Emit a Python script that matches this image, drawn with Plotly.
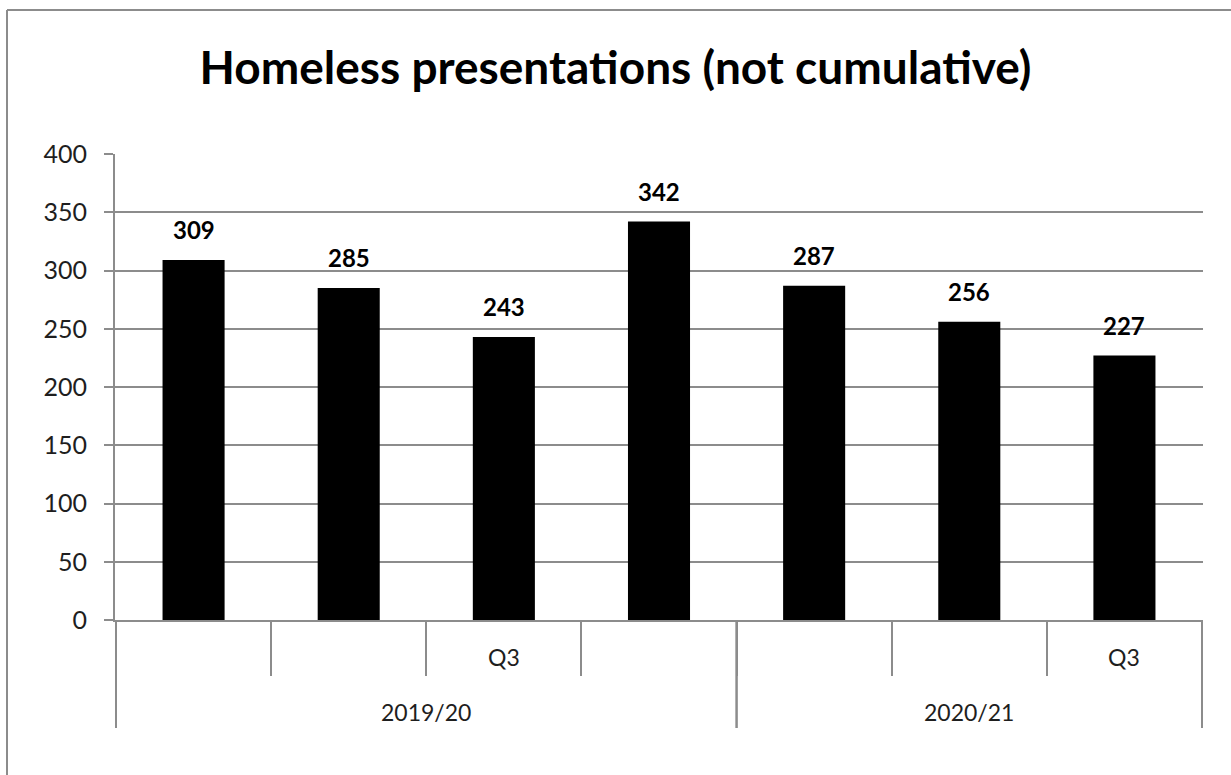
import plotly.graph_objects as go

years = ["2019/20", "2019/20", "2019/20", "2019/20", "2020/21", "2020/21", "2020/21"]
quarters = ["", "", "Q3", "", "", "", "Q3"]
values = [309, 285, 243, 342, 287, 256, 227]
y_ticks = [0, 50, 100, 150, 200, 250, 300, 350, 400]

FONT = "Lato, Carlito, Calibri, sans-serif"
GRID = "#8c8c8c"
TXT = "#1e1e1e"

# plot geometry (pixels) used to express label offsets in paper units
PLOT_H = 466.0
PLOT_W = 1088.0

keys = [f"{y}|{i}" for i, y in enumerate(years)]

fig = go.Figure()
fig.add_trace(go.Bar(
    x=keys, y=values,
    marker=dict(color="black", line=dict(width=0)),
    showlegend=False, hoverinfo="skip",
))

annotations = []
for k, v in zip(keys, values):
    annotations.append(dict(
        x=k, y=v, xref="x", yref="y", text=f"<b>{v}</b>",
        showarrow=False, yanchor="bottom", yshift=14,
        font=dict(family=FONT, size=24, color="black"),
    ))
for k, q in zip(keys, quarters):
    if q:
        annotations.append(dict(
            x=k, y=-37 / PLOT_H, xref="x", yref="paper", text=q,
            showarrow=False, yanchor="middle",
            font=dict(family=FONT, size=23, color=TXT),
        ))

# group (year) labels and divider positions
groups = []
for i, y in enumerate(years):
    if not groups or groups[-1][0] != y:
        groups.append([y, i, i])
    else:
        groups[-1][2] = i

shapes = []
for name, a, b in groups:
    annotations.append(dict(
        x=(a + b) / 2, y=-92 / PLOT_H, xref="x", yref="paper", text=name,
        showarrow=False, yanchor="middle",
        font=dict(family=FONT, size=23, color=TXT),
    ))
    for edge in (a - 0.5, b + 0.5):
        shapes.append(dict(type="line", xref="x", yref="paper",
                           x0=edge, x1=edge, y0=0, y1=-108 / PLOT_H,
                           line=dict(color=GRID, width=2)))

# chart frame (left + top edges visible)
bx = (7 - 115) / PLOT_W
by = 1 + (154 - 10) / PLOT_H
shapes += [
    dict(type="line", xref="paper", yref="paper", x0=bx, x1=1.2, y0=by, y1=by,
         line=dict(color=GRID, width=2)),
    dict(type="line", xref="paper", yref="paper", x0=bx, x1=bx, y0=by, y1=-0.5,
         line=dict(color=GRID, width=2)),
]

fig.update_layout(
    width=1231, height=775,
    margin=dict(l=115, r=28, t=154, b=155),
    paper_bgcolor="white", plot_bgcolor="white",
    bargap=0.6,
    title=dict(text="<b>Homeless presentations (not cumulative)</b>",
               x=0.5, xanchor="center", y=1 - 68 / 775, yanchor="middle",
               font=dict(family=FONT, size=46, color="black")),
    font=dict(family=FONT, color=TXT),
    annotations=annotations,
    shapes=shapes,
)

fig.update_yaxes(
    range=[0, 400], tickvals=y_ticks, showgrid=True, gridcolor=GRID, gridwidth=2,
    showline=True, linecolor=GRID, linewidth=2,
    ticks="outside", ticklen=9, tickcolor=GRID, tickwidth=2,
    tickfont=dict(family=FONT, size=25, color=TXT),
    ticklabelstandoff=12, zeroline=False,
)
fig.update_xaxes(
    type="category", showticklabels=False,
    showline=True, linecolor=GRID, linewidth=2,
    ticks="outside", tickson="boundaries", ticklen=54, tickcolor=GRID, tickwidth=2,
    showgrid=False,
)

fig.write_html("out.html", config={"displayModeBar": False},
               post_script="document.body.style.margin='0';")
